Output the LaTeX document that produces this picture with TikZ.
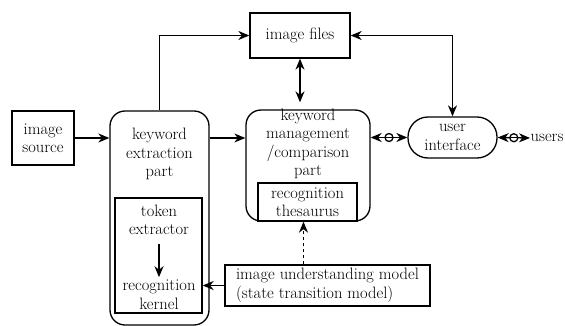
\documentclass[tikz,border=0pt]{standalone}
\usepackage{tikz}
\usetikzlibrary{arrows.meta}

\begin{document}
\begin{tikzpicture}[x=1pt,y=-1pt,>={Stealth[length=11pt,width=9pt,inset=3.5pt]},line width=1.3pt,
  font=\fontsize{16.5}{18.5}\selectfont,
  box/.style={draw,rectangle,inner sep=2pt,align=center},
  part/.style={draw,rounded corners=15pt,inner sep=0pt},
  lbl/.style={align=center,inner sep=0pt},
  coupler/.style={circle,draw,fill=white,inner sep=0pt,minimum size=8pt}]
\useasboundingbox (0,0) rectangle (565,326);
\node[box,minimum width=62pt,minimum height=54pt] (src) at (43,138) {image\\source};
\node[part,minimum width=99pt,minimum height=214pt] (ext) at (159.5,218) {};
\node[lbl] (exttxt) at (159.5,154) {keyword\\extraction\\part};
\node[box,minimum width=87pt,minimum height=115pt] (tok) at (158.5,255.5) {};
\node[lbl] (tokext) at (159,220) {token\\extractor};
\node[lbl] (kern) at (159,294.5) {recognition\\kernel};
\node[box,minimum width=100pt,minimum height=45pt] (files) at (300,35.5) {image files};
\node[part,minimum width=124pt,minimum height=111pt] (mgmt) at (308,165.5) {};
\node[lbl] (mgmttxt) at (308,144) {keyword\\management\\/comparison\\part};
\node[box,minimum width=99pt,minimum height=38pt,inner sep=0pt] (thes) at (307.5,202) {recognition\\thesaurus};
\node[draw,rounded corners=20pt,minimum width=89pt,minimum height=41pt,align=center,inner sep=0pt] (ui) at (452.5,137.5) {user\\interface};
\node[lbl,anchor=west] (users) at (530,138) {users};
\node[box,minimum width=205pt,minimum height=41pt,align=left] (ium) at (327.5,285.5) {image understanding model\\(state transition model)};
\draw[->] (src.east) -- (src.east -| ext.west);
\draw[->] (ext.north) |- (files.west);
\draw[->] (src.east -| ext.east) -- (src.east -| mgmt.west);
\draw[<->,shorten >=7pt] (files.south) -- (files.south |- mgmt.north);
\draw[<->] (files.east) -| (ui.north);
\draw[<->] (ui.west -| mgmt.east) -- (ui.west) node[midway,coupler] (c1) {};
\draw[line width=0.9pt] (c1.west) -- (c1.east);
\draw[<->] (ui.east) -- (users.west) node[midway,coupler] (c2) {};
\draw[line width=0.9pt] (c2.west) -- (c2.east);
\draw[->] ([yshift=-8pt]tokext.south) -- ([yshift=2pt]kern.north);
\draw[->,dash pattern=on 3pt off 3pt] ([xshift=-4pt]ium.north -| thes.south) -- ([xshift=-4pt]thes.south);
\draw[->] (ium.west) -- (ium.west -| tok.east);
\end{tikzpicture}
\end{document}
